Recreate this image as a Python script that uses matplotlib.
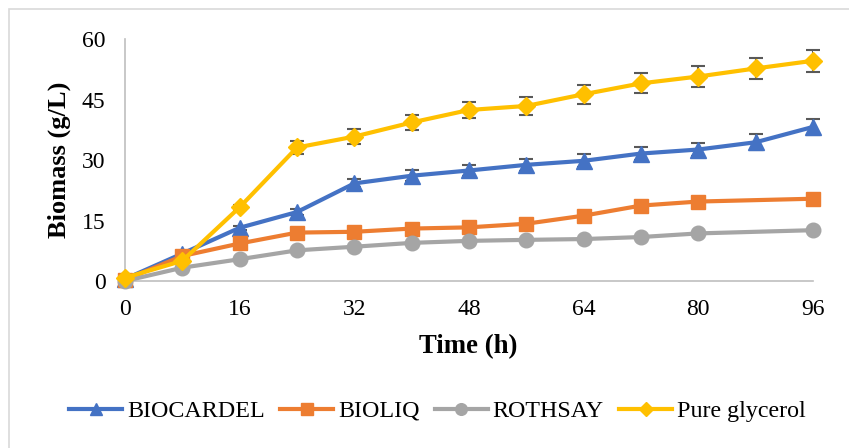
# biomass growth on different glycerol sources
import numpy as np
import matplotlib.pyplot as plt
from matplotlib.patches import Rectangle

plt.rcParams['font.family'] = ['Liberation Serif', 'DejaVu Serif']

# sampling times (h)
t_full = [0, 8, 16, 24, 32, 40, 48, 56, 64, 72, 80, 88, 96]
t_part = [0, 8, 16, 24, 32, 40, 48, 56, 64, 72, 80, 96]

# biomass (g/L)
biocardel = [0.5, 6.8, 13.2, 17.1, 24.2, 26.1, 27.4, 28.8, 29.8, 31.6, 32.6, 34.4, 38.2]
biocardel_err = [0, 0.3, 0.5, 0.7, 1.0, 1.3, 1.4, 1.5, 1.6, 1.6, 1.7, 2.0, 1.9]
bioliq = [0.3, 6.2, 9.3, 12.0, 12.2, 13.0, 13.3, 14.2, 16.2, 18.7, 19.7, 20.4]
rothsay = [0.0, 3.3, 5.4, 7.6, 8.5, 9.45, 9.95, 10.2, 10.4, 10.9, 11.8, 12.6]
glycerol = [0.8, 5.0, 18.3, 33.1, 35.8, 39.3, 42.4, 43.4, 46.3, 49.0, 50.7, 52.7, 54.6]
glycerol_err = [0, 0.3, 0.6, 1.6, 1.8, 1.9, 2.1, 2.2, 2.3, 2.5, 2.6, 2.6, 2.7]

fig = plt.figure(figsize=(8.49, 4.48), dpi=100)
ax = fig.add_axes([125/849, 1-281/448, (813-125)/849, (281-39)/448])

# light grey chart frame
fig.patches.append(Rectangle((8.5/849, -0.05), 1.2, 1.05-9.5/448, transform=fig.transFigure,
                             fill=False, edgecolor='#d9d9d9', lw=1.2))

ecol = '#595959'
ax.errorbar(t_full, biocardel, yerr=biocardel_err, fmt='none', ecolor=ecol,
            elinewidth=1.5, capsize=5, capthick=1.5, zorder=2)
ax.errorbar(t_full, glycerol, yerr=glycerol_err, fmt='none', ecolor=ecol,
            elinewidth=1.5, capsize=5, capthick=1.5, zorder=2)

ax.plot(t_full, biocardel, color='#4472C4', lw=3, marker='^', ms=11, label='BIOCARDEL', zorder=3)
ax.plot(t_part, bioliq, color='#ED7D31', lw=3, marker='s', ms=10, label='BIOLIQ', zorder=3)
ax.plot(t_part, rothsay, color='#A5A5A5', lw=3, marker='o', ms=10.5, label='ROTHSAY', zorder=3)
ax.plot(t_full, glycerol, color='#FFC000', lw=3, marker='D', ms=9.5, label='Pure glycerol', zorder=4)

ax.set_xlim(0, 96)
ax.set_ylim(0, 60)
ax.set_xticks(np.arange(0, 97, 16))
ax.set_yticks(np.arange(0, 61, 15))
ax.tick_params(length=0, labelsize=17)
ax.tick_params(axis='x', pad=13)
ax.tick_params(axis='y', pad=14)
for s in ['top', 'right']:
    ax.spines[s].set_visible(False)
for s in ['left', 'bottom']:
    ax.spines[s].set_color('#bfbfbf')
    ax.spines[s].set_linewidth(1.2)
for ln in ax.lines:
    ln.set_clip_on(False)

fig.text(59/849, 1-160/448, 'Biomass (g/L)', rotation=90, ha='center', va='center',
         fontsize=19, fontweight='bold')
fig.text(468/849, 1-347/448, 'Time (h)', ha='center', va='center',
         fontsize=19.3, fontweight='bold')

fig.legend(loc='center', bbox_to_anchor=(437.5/849, 1-411/448), ncol=4, frameon=False,
           fontsize=17.3, handlelength=2.2, handletextpad=0.2, columnspacing=0.65,
           markerscale=0.8)

fig.savefig('out.png', dpi=100)
